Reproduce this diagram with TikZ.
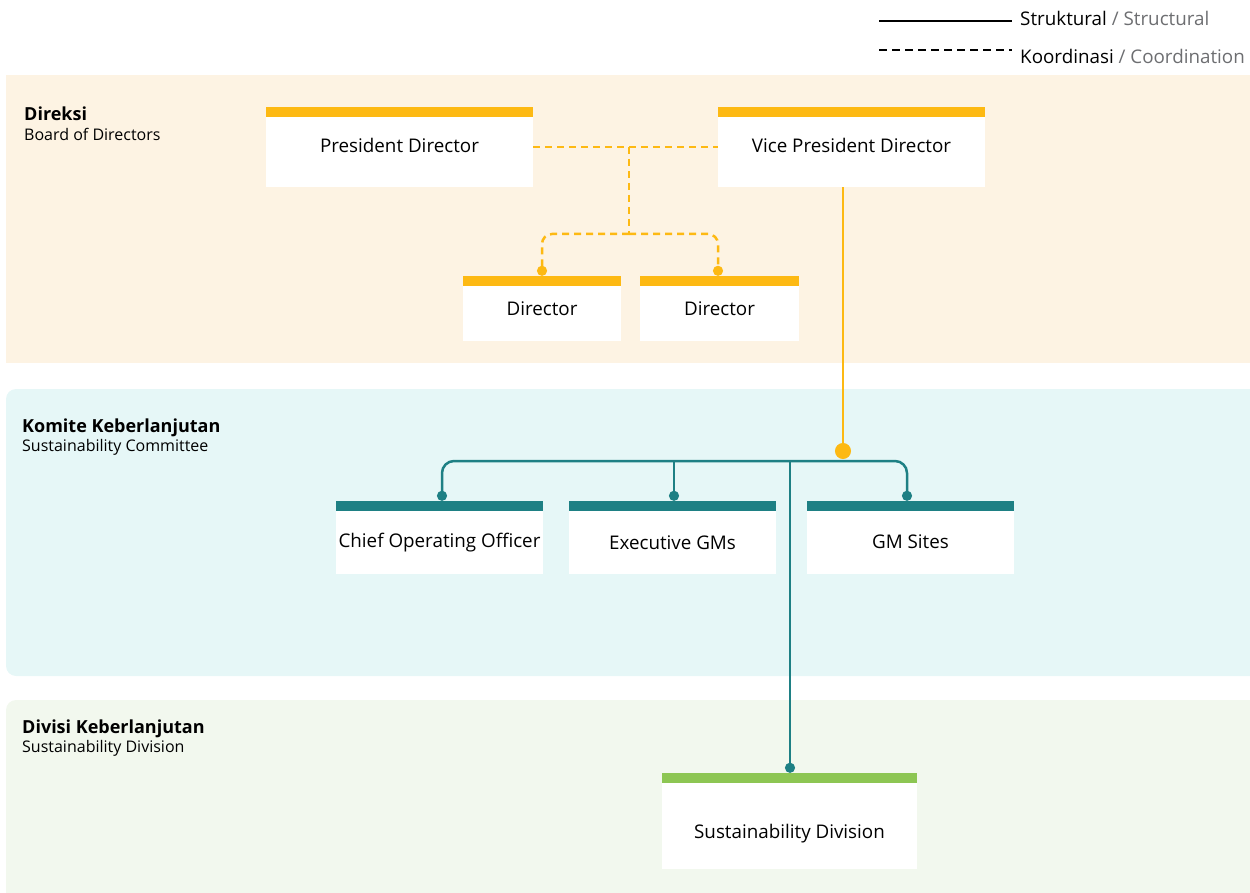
\documentclass[tikz,border=0pt]{standalone}
\usepackage{fontspec}
\setmainfont{Open Sans}
\usetikzlibrary{arrows.meta}
\definecolor{bandA}{HTML}{FDF3E3}
\definecolor{bandB}{HTML}{E6F7F7}
\definecolor{bandC}{HTML}{F2F8EE}
\definecolor{yel}{HTML}{FDB913}
\definecolor{tealc}{HTML}{1E8084}
\definecolor{grn}{HTML}{8DC653}
\definecolor{gry}{HTML}{6D6E71}

\begin{document}
\begin{tikzpicture}[x=1pt,y=-1pt,
  unit/.style={fill=white, inner sep=0pt, font=\fontsize{18.8}{22}\selectfont,
    path picture={\fill[#1] (path picture bounding box.north west) rectangle ([yshift=-10pt]path picture bounding box.north east);}},
  band/.style={anchor=base west, inner sep=0pt},
  coord/.style={yel, line width=2.5pt, dash pattern=on 7pt off 5pt},
  struct/.style={tealc, line width=2.5pt},
  dot/.style={-{Circle[length=10pt]}}]
\useasboundingbox (0,0) rectangle (1250,893);
\fill[bandA] (6,75) rectangle (1250,363);
\fill[bandB, rounded corners=10] (6,389) rectangle (1262,676);
\fill[bandC, rounded corners=10] (6,700) rectangle (1262,905);
\node[band, font=\fontsize{18}{21}\selectfont\bfseries] (dir) at (24,121) {Direksi};
\node[band, font=\fontsize{16}{19}\selectfont] (bod) at (24,141) {Board of Directors};
\node[band, font=\fontsize{18}{21}\selectfont\bfseries] (kom) at (22,432) {Komite Keberlanjutan};
\node[band, font=\fontsize{16}{19}\selectfont] (sc) at (22,451) {Sustainability Committee};
\node[band, font=\fontsize{18}{21}\selectfont\bfseries] (div) at (22,733) {Divisi Keberlanjutan};
\node[band, font=\fontsize{16}{19}\selectfont] (sdv) at (22,752) {Sustainability Division};
% legend
\node[band, font=\fontsize{18.8}{22}\selectfont] (lgs) at (1020,26) {Struktural \textcolor{gry}{/ Structural}};
\node[band, font=\fontsize{18.8}{22}\selectfont] (lgk) at (1020,64) {Koordinasi \textcolor{gry}{/ Coordination}};
\coordinate (lsa) at (879,21);
\coordinate (lka) at (879,50);
\draw[line width=2.5pt] (lsa) -- ([xshift=-8pt]lsa -| lgs.west);
\draw[line width=2.5pt, dash pattern=on 8pt off 5pt] (lka) -- ([xshift=-8pt]lka -| lgk.west);
% boxes
\node[unit=yel, minimum width=267, minimum height=80, text height=11] (pd) at (399.5,147) {President Director};
\node[unit=yel, minimum width=267, minimum height=80, text height=11] (vpd) at (851.5,147) {Vice President Director};
\node[unit=yel, minimum width=158, minimum height=65, text height=14] (d1) at (542,308.5) {Director};
\node[unit=yel, minimum width=159, minimum height=65, text height=14] (d2) at (719.5,308.5) {Director};
\node[unit=tealc, minimum width=207, minimum height=73, text height=24] (coo) at (439.5,537.5) {Chief Operating Officer};
\node[unit=tealc, minimum width=207, minimum height=73, text height=24] (egm) at (672.5,537.5) {Executive GMs};
\node[unit=tealc, minimum width=207, minimum height=73, text height=22] (gms) at (910.5,537.5) {GM Sites};
\node[unit=grn, minimum width=255, minimum height=96, text height=39] (sd) at (789.5,821) {Sustainability Division};
% coordination
\coordinate (split) at (629,234);
\draw[coord] (pd.east) -- (vpd.west);
\draw[coord] (pd.east -| split) -- (split);
\draw[coord, dot, rounded corners=10] (split) -| (d1.north);
\draw[coord, dot, rounded corners=10] (split) -| ([xshift=-1.5pt]d2.north);
% structure
\coordinate (hub) at (843,461);
\draw[struct, {Circle[length=10pt]}-{Circle[length=10pt]}, rounded corners=12] ([xshift=2.5pt]coo.north) |- (hub) -| ([xshift=-3.5pt]gms.north);
\draw[struct, dot] ([xshift=1.5pt]egm.north |- hub) -- ([xshift=1.5pt]egm.north);
\draw[struct, dot] ([xshift=0.5pt]sd.north |- hub) -- ([xshift=0.5pt]sd.north);
\draw[yel, line width=2.5pt, -{Circle[length=16pt]}] ([xshift=-8.5pt]vpd.south) -- ([yshift=2pt]hub);
\end{tikzpicture}
\end{document}
